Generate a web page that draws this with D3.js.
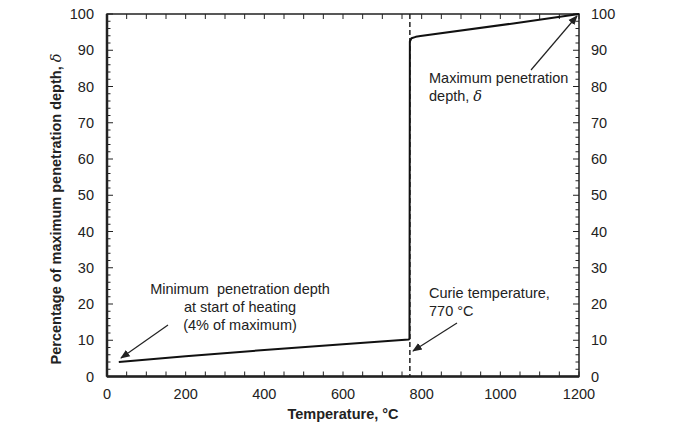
<!DOCTYPE html>
<html><head><meta charset="utf-8">
<script src="https://cdn.jsdelivr.net/npm/d3@7"></script>
<style>body{margin:0;background:#fff}text{font-family:"Liberation Sans",Arial,sans-serif;fill:#222}</style>
</head><body><svg id="c" width="697" height="426"></svg>
<script>
const temps = [30, 200, 400, 600, 767, 769, 770, 774, 785, 797, 1033, 1200];
const depth = [4, 5.6, 7.3, 8.9, 10.2, 10.4, 92.4, 93.3, 93.7, 93.9, 97.4, 100];
const xTicks = [0, 200, 400, 600, 800, 1000, 1200];
const yTicks = [0, 10, 20, 30, 40, 50, 60, 70, 80, 90, 100];
const curieT = 770;

const svg = d3.select("#c");
const L = 107, R = 579, T = 14, B = 376.5;
const x = d3.scaleLinear().domain([0, 1200]).range([L, R]);
const y = d3.scaleLinear().domain([0, 100]).range([B, T]);
const FS = 14.5;

// minor ticks
const xMinor = d3.range(0, 1201, 50);
const yMinor = d3.range(0, 101, 2);
const g = svg.append("g").attr("stroke", "#222");
xMinor.forEach(v => {
  const len = 5;
  g.append("line").attr("x1", x(v)).attr("x2", x(v)).attr("y1", B).attr("y2", B - len).attr("stroke-width", 1);
  g.append("line").attr("x1", x(v)).attr("x2", x(v)).attr("y1", T).attr("y2", T + len).attr("stroke-width", 1);
});
yMinor.forEach(v => {
  const len = v % 10 === 0 ? 6 : 3.5;
  g.append("line").attr("x1", L).attr("x2", L + len).attr("y1", y(v)).attr("y2", y(v)).attr("stroke-width", 1);
  g.append("line").attr("x1", R).attr("x2", R - len).attr("y1", y(v)).attr("y2", y(v)).attr("stroke-width", 1);
});

// frame
svg.append("rect").attr("x", L).attr("y", T).attr("width", R - L).attr("height", B - T)
  .attr("fill", "none").attr("stroke", "#222").attr("stroke-width", 1.5);
svg.append("line").attr("x1", L).attr("x2", R).attr("y1", B).attr("y2", B).attr("stroke", "#222").attr("stroke-width", 2.5);
svg.append("line").attr("x1", L).attr("x2", L).attr("y1", T).attr("y2", B).attr("stroke", "#222").attr("stroke-width", 2.5);

// tick labels
svg.append("g").selectAll("text").data(xTicks).join("text")
  .attr("x", d => x(d)).attr("y", 399).attr("text-anchor", "middle").attr("font-size", FS).text(d => d);
svg.append("g").selectAll("text").data(yTicks).join("text")
  .attr("x", 94).attr("y", d => y(d) + 5).attr("text-anchor", "end").attr("font-size", FS).text(d => d);
svg.append("g").selectAll("text").data(yTicks).join("text")
  .attr("x", 591).attr("y", d => y(d) + 5).attr("text-anchor", "start").attr("font-size", FS).text(d => d);

// axis titles
svg.append("text").attr("x", 343).attr("y", 419).attr("text-anchor", "middle")
  .attr("font-size", FS).attr("font-weight", "bold").text("Temperature, °C");
svg.append("text").attr("transform", "translate(61,209) rotate(-90)").attr("text-anchor", "middle")
  .attr("font-size", FS).attr("font-weight", "bold")
  .html('Percentage of maximum penetration depth, <tspan font-style="italic" font-weight="normal" font-family="DejaVu Serif">δ</tspan>');

// curie dashed
svg.append("line").attr("x1", x(curieT)).attr("x2", x(curieT)).attr("y1", T).attr("y2", B)
  .attr("stroke", "#222").attr("stroke-width", 1.5).attr("stroke-dasharray", "5,3");

// data line
const line = d3.line().x(d => x(d[0])).y(d => y(d[1]));
svg.append("path").datum(temps.map((t, i) => [t, depth[i]])).attr("d", line)
  .attr("fill", "none").attr("stroke", "#111").attr("stroke-width", 2).attr("stroke-linejoin", "round");

// arrows
const defs = svg.append("defs");
defs.append("marker").attr("id", "ah").attr("viewBox", "0 0 10 10").attr("refX", 9).attr("refY", 5)
  .attr("markerWidth", 8).attr("markerHeight", 8).attr("orient", "auto")
  .append("path").attr("d", "M0,1 L10,5 L0,9 Z").attr("fill", "#222");
function arrow(x1, y1, x2, y2) {
  svg.append("line").attr("x1", x1).attr("y1", y1).attr("x2", x2).attr("y2", y2)
    .attr("stroke", "#222").attr("stroke-width", 1.2).attr("marker-end", "url(#ah)");
}
arrow(531, 70, 577, 16);
arrow(168, 325, 121, 358);
arrow(457, 323, 413, 351);

// annotation texts
function lines(arr, xx, y0, anchor, dy) {
  arr.forEach((s, i) => svg.append("text").attr("x", xx).attr("y", y0 + i * dy)
    .attr("text-anchor", anchor).attr("font-size", FS).style("white-space", "pre").html(s));
}
lines(["Maximum penetration", 'depth, <tspan font-style="italic" font-family="DejaVu Serif">δ</tspan>'], 429, 83, "start", 18);
lines(["Minimum  penetration depth", "at start of heating", "(4% of maximum)"], 240, 294, "middle", 18);
lines(["Curie temperature,", "770 °C"], 429, 298, "start", 18);
</script></body></html>
